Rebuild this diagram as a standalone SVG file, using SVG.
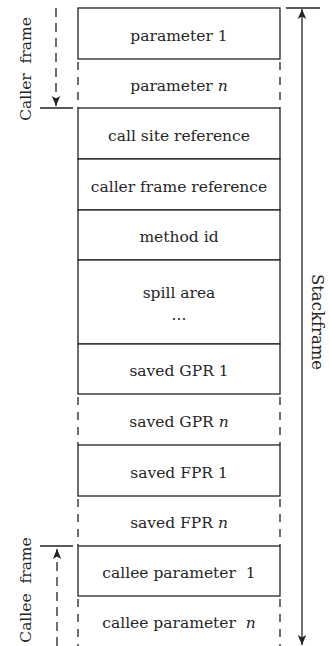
<svg xmlns="http://www.w3.org/2000/svg" width="330" height="646" viewBox="0 0 330 646">
  <style>
    .box { fill: #fff; stroke: #222; stroke-width: 1.3; }
    .side { stroke: #222; stroke-width: 1.3; stroke-dasharray: 8 7; fill: none; }
    .line { stroke: #222; stroke-width: 1.3; fill: none; }
    .dash { stroke: #222; stroke-width: 1.3; stroke-dasharray: 9 6; fill: none; }
    text { font-family: 'DejaVu Serif', 'Liberation Serif', serif; font-size: 15.5px; fill: #262626; text-anchor: middle; white-space: pre; }
    .big { font-size: 15.5px; }
    .side-label { font-size: 16.5px; }
  </style>
  <defs>
    <marker id="head" viewBox="0 0 10 10" refX="10" refY="5" markerWidth="10" markerHeight="10" markerUnits="userSpaceOnUse" orient="auto-start-reverse">
      <path d="M0,0.8 L10,5 L0,9.2 L2.5,5 Z" fill="#222"/>
    </marker>
  </defs>

  <rect width="330" height="646" fill="#fff"/>

  <!-- stack slots -->
  <g id="param1"><rect class="box" x="78" y="8" width="202" height="51"/><text x="179" y="40.5">parameter 1</text></g>
  <g id="paramN"><line class="side" x1="78" y1="62" x2="78" y2="108"/><line class="side" x1="280" y1="62" x2="280" y2="108"/><text x="179" y="90.5">parameter <tspan font-style="italic">n</tspan></text></g>
  <g id="callSite"><rect class="box" x="78" y="108" width="202" height="51"/><text x="179" y="140.5">call site reference</text></g>
  <g id="callerRef"><rect class="box" x="78" y="159" width="202" height="51"/><text x="179" y="191.5">caller frame reference</text></g>
  <g id="methodId"><rect class="box" x="78" y="210" width="202" height="50"/><text x="179" y="242">method id</text></g>
  <g id="spill"><rect class="box" x="78" y="260" width="202" height="84"/><text x="179" y="298">spill area</text><text x="179" y="320">...</text></g>
  <g id="gpr1"><rect class="box" x="78" y="344" width="202" height="50"/><text x="179" y="376">saved GPR 1</text></g>
  <g id="gprN"><line class="side" x1="78" y1="397" x2="78" y2="445"/><line class="side" x1="280" y1="397" x2="280" y2="445"/><text x="179" y="426.5">saved GPR <tspan font-style="italic">n</tspan></text></g>
  <g id="fpr1"><rect class="box" x="78" y="445" width="202" height="51"/><text x="179" y="477.5">saved FPR 1</text></g>
  <g id="fprN"><line class="side" x1="78" y1="499" x2="78" y2="546"/><line class="side" x1="280" y1="499" x2="280" y2="546"/><text x="179" y="528">saved FPR <tspan font-style="italic">n</tspan></text></g>
  <g id="calleeParam1"><rect class="box" x="78" y="546" width="202" height="50"/><text x="179" y="578">callee parameter  1</text></g>
  <g id="calleeParamN"><line class="side" x1="78" y1="599" x2="78" y2="646"/><line class="side" x1="280" y1="599" x2="280" y2="646"/><text x="179" y="628">callee parameter  <tspan font-style="italic">n</tspan></text></g>

  <!-- extents -->
  <g id="connectors">
    <line class="dash" x1="56" y1="8" x2="56" y2="106" marker-end="url(#head)"/>
    <line class="line" x1="40" y1="108" x2="73" y2="108"/>
    <line class="dash" x1="57" y1="646" x2="57" y2="549" marker-end="url(#head)"/>
    <line class="line" x1="40" y1="546" x2="73" y2="546"/>
    <line class="line" x1="286" y1="8" x2="320" y2="8"/>
    <line class="line" x1="302" y1="9" x2="302" y2="645" marker-start="url(#head)" marker-end="url(#head)"/>
  </g>

  <g id="labels">
    <text class="big" transform="translate(31,69) rotate(-90)">Caller  frame</text>
    <text class="big" transform="translate(31,590) rotate(-90)">Callee  frame</text>
    <text class="side-label" transform="translate(312,322) rotate(90)">Stackframe</text>
  </g>
</svg>
